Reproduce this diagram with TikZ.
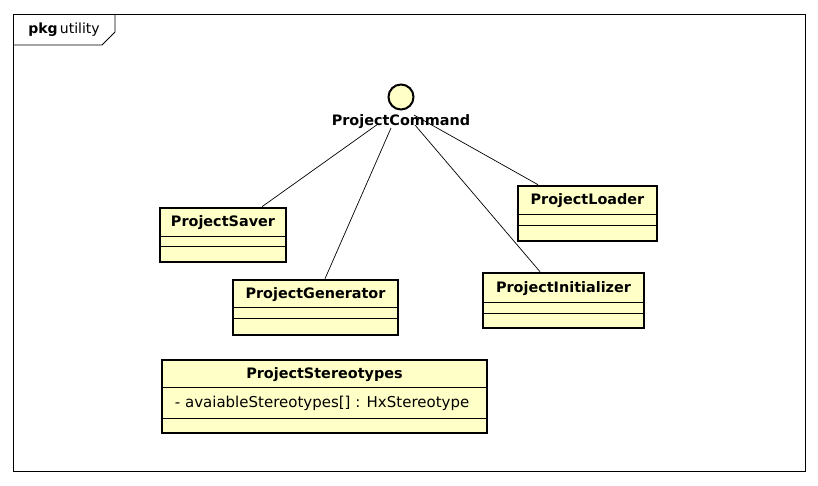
\documentclass[tikz,border=0pt]{standalone}
\usepackage{fontspec}
\setmainfont{DejaVu Sans}
\usetikzlibrary{calc}

\definecolor{umlfill}{RGB}{255,255,200}

\begin{document}
\begin{tikzpicture}[x=1pt,y=-1pt,
         classbox/.style = {draw,line width=2.6pt,fill=umlfill,inner sep=0pt},
         classname/.style = {font=\bfseries\fontsize{14.4}{16}\selectfont,inner sep=0pt},
         member/.style = {font=\fontsize{15}{17}\selectfont,inner sep=0pt,anchor=west},
         sep/.style = {line width=0.8pt},
         link/.style = {line width=0.7pt}
]

      \useasboundingbox (0,0) rectangle (818,485);

      % package frame
      \draw[line width=0.8pt] (13,14) rectangle (805,471);
      \draw[line width=0.8pt] (13,45) -- (102,45) -- (115,32) -- (115,14);
      \node[inner sep=0pt,font=\fontsize{14}{16}\selectfont] (pkg) at (64,30)
         {\textbf{pkg}\,utility};

      % interface
      \node[circle,draw,line width=2pt,fill=umlfill,minimum size=25pt,
            inner sep=0pt] (iface) at (401,97) {};
      \node[classname] (cmd) at (401,122) {ProjectCommand};

      % classes
      \node[classbox,minimum width=126pt,minimum height=54pt]  (saver)  at (223,235)   {};
      \node[classbox,minimum width=165pt,minimum height=55pt]  (gen)    at (315.5,307.5) {};
      \node[classbox,minimum width=139pt,minimum height=55pt]  (loader) at (587.5,213.5) {};
      \node[classbox,minimum width=161pt,minimum height=55pt]  (init)   at (563.5,300.5) {};
      \node[classbox,minimum width=325pt,minimum height=73pt]  (stereo) at (324.5,396.5) {};

      % compartments
      \draw[sep] ($(saver.north west)+(0,30)$)  -- ($(saver.north east)+(0,30)$);
      \draw[sep] ($(saver.north west)+(0,40)$)  -- ($(saver.north east)+(0,40)$);
      \draw[sep] ($(gen.north west)+(0,29)$)    -- ($(gen.north east)+(0,29)$);
      \draw[sep] ($(gen.north west)+(0,40)$)    -- ($(gen.north east)+(0,40)$);
      \draw[sep] ($(loader.north west)+(0,30)$) -- ($(loader.north east)+(0,30)$);
      \draw[sep] ($(loader.north west)+(0,41)$) -- ($(loader.north east)+(0,41)$);
      \draw[sep] ($(init.north west)+(0,31)$)   -- ($(init.north east)+(0,31)$);
      \draw[sep] ($(init.north west)+(0,42)$)   -- ($(init.north east)+(0,42)$);
      \draw[sep] ($(stereo.north west)+(0,29)$) -- ($(stereo.north east)+(0,29)$);
      \draw[sep] ($(stereo.north west)+(0,60)$) -- ($(stereo.north east)+(0,60)$);

      % class names
      \node[classname] (saver-name)  at ($(saver.north)+(0,16)$)  {ProjectSaver};
      \node[classname] (gen-name)    at ($(gen.north)+(0,15.5)$)  {ProjectGenerator};
      \node[classname] (loader-name) at ($(loader.north)+(0,16)$) {ProjectLoader};
      \node[classname] (init-name)   at ($(init.north)+(0,16.5)$) {ProjectInitializer};
      \node[classname] (stereo-name) at ($(stereo.north)+(0,15.5)$) {ProjectStereotypes};
      \node[member] (stereo-attr) at ($(stereo.north west)+(14,45)$)
         {- avaiableStereotypes[] : HxStereotype};

      % realizations of the interface
      \draw[link] ($(cmd.center)+(-23,2)$)  -- ($(saver.north)+(39,0)$);
      \draw[link] ($(cmd.center)+(-10,6)$)  -- ($(gen.north)+(9.5,0)$);
      \draw[link] ($(cmd.center)+(14,3)$)   -- ($(init.north)+(-23.5,0)$);
      \draw[link] ($(cmd.center)+(13,-7)$)  -- ($(loader.north)+(-49.5,0)$);

   \end{tikzpicture}
\end{document}
